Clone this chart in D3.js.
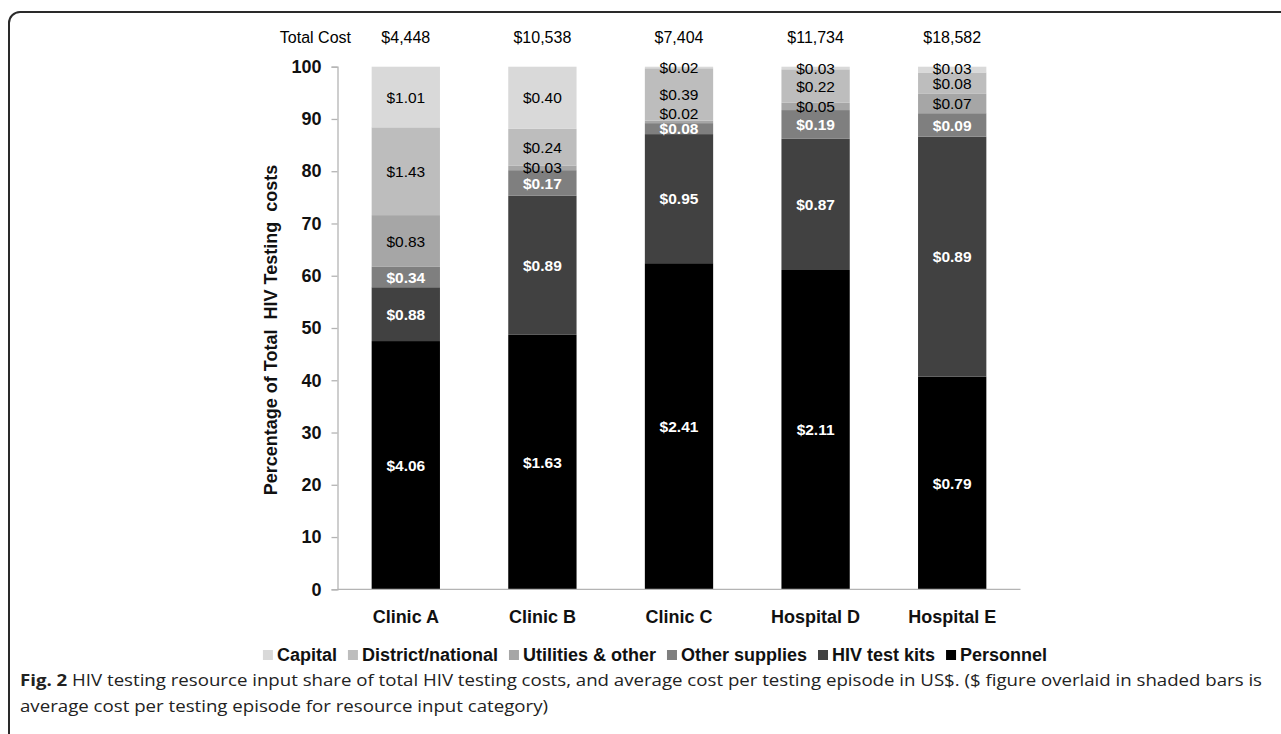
<!DOCTYPE html>
<html lang="en">
<head>
    <meta charset="UTF-8">
    <title>HIV testing costs</title>
    <script src="https://d3js.org/d3.v7.min.js"></script>
    <style>
        body {margin: 0; background: #fff;}
        text {font-family: Arial, "Liberation Sans", sans-serif;}
        .caption {font-family: "Open Sans", "Noto Sans", sans-serif;}
    </style>
</head>
<body>
<script>
    const width = 1281;
    const height = 734;

    // data (percent of total cost, bottom to top)
    const categories = ["Clinic A", "Clinic B", "Clinic C", "Hospital D", "Hospital E"];
    const totalCosts = ["$4,448", "$10,538", "$7,404", "$11,734", "$18,582"];
    const seriesNames = ["Personnel", "HIV test kits", "Other supplies", "Utilities & other", "District/national", "Capital"];
    const personnel = [47.5, 48.7, 62.4, 61.1, 40.7];
    const hivKits = [10.3, 26.6, 24.7, 25.1, 45.9];
    const otherSupplies = [3.9, 4.9, 2.1, 5.5, 4.5];
    const utilities = [9.9, 0.9, 0.5, 1.4, 3.7];
    const district = [16.8, 7.0, 10.0, 6.4, 4.1];
    const capital = [11.6, 11.9, 0.3, 0.5, 1.1];
    // average cost per testing episode, shown inside the segments
    const personnelCost = ["$4.06", "$1.63", "$2.41", "$2.11", "$0.79"];
    const hivKitsCost = ["$0.88", "$0.89", "$0.95", "$0.87", "$0.89"];
    const otherSuppliesCost = ["$0.34", "$0.17", "$0.08", "$0.19", "$0.09"];
    const utilitiesCost = ["$0.83", "$0.03", "$0.02", "$0.05", "$0.07"];
    const districtCost = ["$1.43", "$0.24", "$0.39", "$0.22", "$0.08"];
    const capitalCost = ["$1.01", "$0.40", "$0.02", "$0.03", "$0.03"];
    const yTicks = [0, 10, 20, 30, 40, 50, 60, 70, 80, 90, 100];

    const seriesValues = [personnel, hivKits, otherSupplies, utilities, district, capital];
    const seriesCosts = [personnelCost, hivKitsCost, otherSuppliesCost, utilitiesCost, districtCost, capitalCost];
    const colors = ["#000000", "#414141", "#7f7f7f", "#a6a6a6", "#bdbdbd", "#d9d9d9"];
    const labelColors = ["#fff", "#fff", "#fff", "#000", "#000", "#000"];

    const table = categories.map((c, i) => {
        const row = {category: c};
        seriesNames.forEach((s, j) => row[s] = seriesValues[j][i]);
        return row;
    });
    const stacked = d3.stack().keys(seriesNames)(table);

    const svg = d3.select("body").append("svg")
            .attr("width", width).attr("height", height);

    // frame of the figure panel
    svg.append("path")
            .attr("d", "M9,760 V23 A11,11 0 0 1 20,12 H1300")
            .style("fill", "none")
            .style("stroke", "#2a2a2a")
            .style("stroke-width", 2);

    const x = d3.scaleBand().domain(categories).range([337.5, 1020.5])
            .paddingInner(0.5).paddingOuter(0.25);
    const y = d3.scaleLinear().domain([0, 100]).range([589.3, 66.7]);

    // bars
    const layers = svg.selectAll("g.layer")
            .data(stacked)
            .enter()
            .append("g")
            .attr("class", "layer")
            .style("fill", (d, i) => colors[i]);

    layers.selectAll("rect")
            .data(d => d)
            .enter()
            .append("rect")
            .attr("x", d => x(d.data.category))
            .attr("width", x.bandwidth())
            .attr("y", d => y(d[1]))
            .attr("height", d => y(d[0]) - y(d[1]));

    // axes
    const yAxis = svg.append("g")
            .attr("transform", "translate(337.5,0)")
            .call(d3.axisLeft(y).tickValues(yTicks).tickSize(6).tickPadding(10));
    yAxis.selectAll("path, line").style("stroke", "#b4b4b4").style("stroke-width", 1.3);
    yAxis.selectAll("text")
            .style("font-size", "18px")
            .style("font-weight", "bold")
            .style("fill", "#111");

    const xAxis = svg.append("g")
            .attr("transform", "translate(0,589.3)")
            .call(d3.axisBottom(x).tickSize(0).tickPadding(21));
    xAxis.select("path").style("stroke", "#b4b4b4").style("stroke-width", 1.3)
            .attr("d", "M337.5,0H1020.5");
    xAxis.selectAll("text")
            .style("font-size", "18px")
            .style("font-weight", "bold")
            .style("fill", "#111");

    svg.append("text")
            .attr("transform", "translate(277,330) rotate(-90)")
            .attr("text-anchor", "middle")
            .attr("xml:space", "preserve")
            .style("font-size", "18px")
            .style("font-weight", "bold")
            .style("fill", "#111")
            .text("Percentage of Total  HIV Testing  costs");

    // cost labels inside the segments, nudged up when they would collide
    const labels = [];
    categories.forEach((c, i) => {
        let prev = Infinity;
        stacked.forEach((layer, j) => {
            const seg = layer[i];
            const mid = (y(seg[0]) + y(seg[1])) / 2;
            const cy = Math.min(mid, prev - 15);
            prev = cy;
            labels.push({cx: x(c) + x.bandwidth() / 2, cy: cy, text: seriesCosts[j][i], s: j});
        });
    });
    svg.selectAll("text.cost")
            .data(labels)
            .enter()
            .append("text")
            .attr("class", "cost")
            .attr("x", d => d.cx)
            .attr("y", d => d.cy)
            .attr("dy", "0.36em")
            .attr("text-anchor", "middle")
            .style("font-size", "15.5px")
            .style("font-weight", d => d.s < 3 ? "bold" : "normal")
            .style("fill", d => labelColors[d.s])
            .text(d => d.text);

    // total cost row
    svg.append("text")
            .attr("x", 351).attr("y", 42.5)
            .attr("text-anchor", "end")
            .style("font-size", "16px")
            .text("Total Cost");
    svg.selectAll("text.total")
            .data(totalCosts)
            .enter()
            .append("text")
            .attr("class", "total")
            .attr("x", (d, i) => x(categories[i]) + x.bandwidth() / 2)
            .attr("y", 42.5)
            .attr("text-anchor", "middle")
            .style("font-size", "16px")
            .text(d => d);

    // legend (reverse order, Capital first)
    const legend = svg.append("g").attr("class", "legend");
    const items = seriesNames.map((s, i) => ({name: s, color: colors[i]})).reverse();
    let lx = 0;
    items.forEach(it => {
        const g = legend.append("g").attr("transform", `translate(${lx},0)`);
        g.append("rect").attr("x", 0).attr("y", -11).attr("width", 10).attr("height", 10)
                .style("fill", it.color);
        const t = g.append("text").attr("x", 14).attr("y", 0)
                .style("font-size", "18px")
                .style("font-weight", "bold")
                .style("fill", "#111")
                .text(it.name);
        lx += 14 + t.node().getComputedTextLength() + 11;
    });
    legend.attr("transform", `translate(${655 - (lx - 11) / 2},661)`);

    // caption
    const cap1 = svg.append("text").attr("class", "caption")
            .attr("x", 20).attr("y", 686)
            .attr("textLength", 1242).attr("lengthAdjust", "spacingAndGlyphs")
            .style("font-size", "16px")
            .style("fill", "#222");
    cap1.append("tspan").style("font-weight", "bold").text("Fig. 2");
    cap1.append("tspan").text(" HIV testing resource input share of total HIV testing costs, and average cost per testing episode in US$. ($ figure overlaid in shaded bars is");
    svg.append("text").attr("class", "caption")
            .attr("x", 20).attr("y", 712)
            .attr("textLength", 528).attr("lengthAdjust", "spacingAndGlyphs")
            .style("font-size", "16px")
            .style("fill", "#222")
            .text("average cost per testing episode for resource input category)");
</script>
</body>
</html>
